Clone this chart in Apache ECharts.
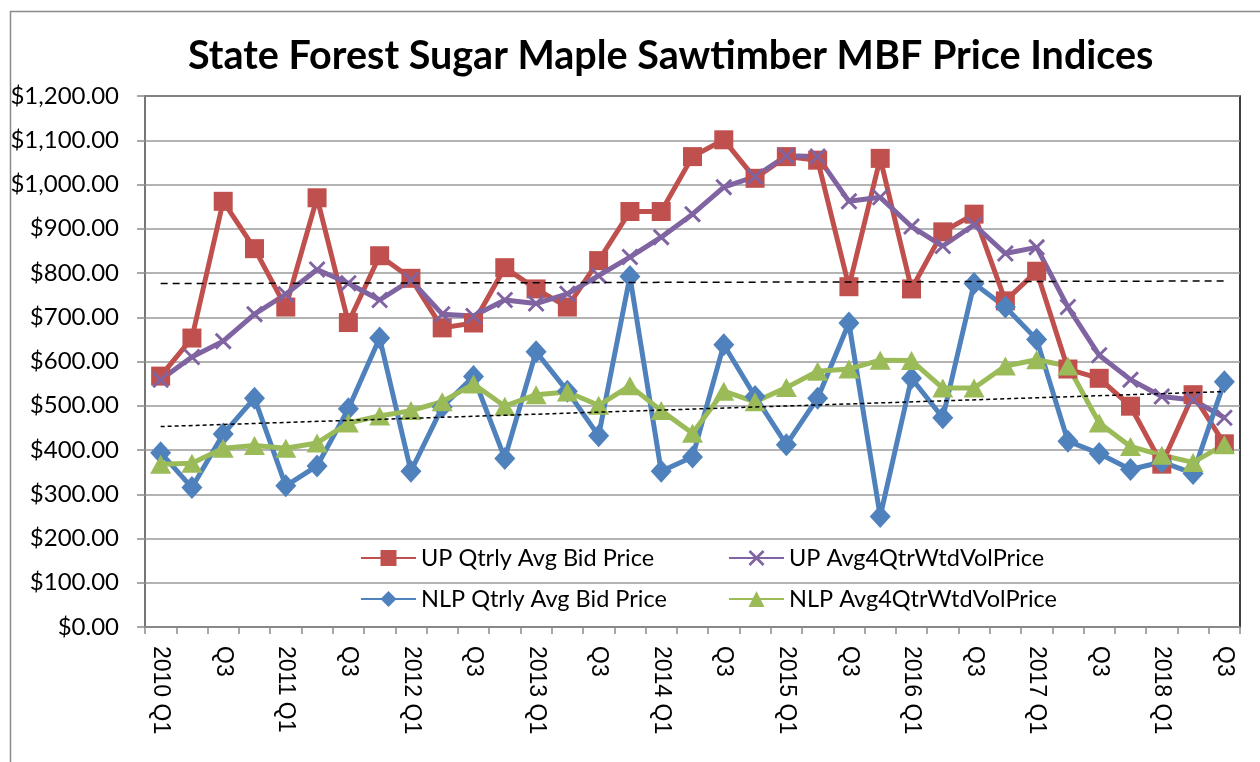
<!DOCTYPE html>
<html>
<head>
<meta charset="utf-8">
<script src="https://cdn.jsdelivr.net/npm/echarts@6/dist/echarts.min.js"></script>
<style>
html,body{margin:0;padding:0;background:#fff;}
#chart{width:1260px;height:762px;}
</style>
</head>
<body>
<div id="chart"></div>
<script>
const categories = [
  "2010 Q1","Q2","Q3","Q4",
  "2011 Q1","Q2","Q3","Q4",
  "2012 Q1","Q2","Q3","Q4",
  "2013 Q1","Q2","Q3","Q4",
  "2014 Q1","Q2","Q3","Q4",
  "2015 Q1","Q2","Q3","Q4",
  "2016 Q1","Q2","Q3","Q4",
  "2017 Q1","Q2","Q3","Q4",
  "2018 Q1","Q2","Q3"
];
const upQtrly = [567,653,962,855,723,970,688,839,788,676,687,812,
  764,723,828,939,939,1063,1101,1014,1063,1055,769,1059,
  764,893,933,737,804,583,562,499,368,525,414];
const upAvg4 = [559,610,646,707,752,808,777,739,784,707,703,739,
  731,753,794,836,881,933,994,1018,1065,1063,962,971,
  905,861,909,844,858,723,614,559,521,513,473];
const nlpQtrly = [394,315,436,517,319,364,493,653,352,497,566,381,
  622,533,432,792,352,384,638,521,412,517,687,250,
  562,473,776,723,650,420,392,356,373,347,554];
const nlpAvg4 = [368,370,404,410,404,416,461,477,489,509,549,499,
  525,531,501,545,489,438,533,509,541,578,583,603,
  602,540,540,590,604,590,461,408,388,372,412];
// dashed linear trend lines: read end values (first and last quarter)
const upTrendEnds = [776, 782];
const nlpTrendEnds = [453, 532];
const yTicks = [0,100,200,300,400,500,600,700,800,900,1000,1100,1200];

const seriesNames = ["UP Qtrly Avg Bid Price","UP Avg4QtrWtdVolPrice","NLP Qtrly Avg Bid Price","NLP Avg4QtrWtdVolPrice"];

function trendData(ends){
  const d = categories.map(()=>null);
  d[0] = ends[0];
  d[categories.length-1] = ends[1];
  return d;
}
function money(v){
  return '$' + v.toLocaleString('en-US',{minimumFractionDigits:2,maximumFractionDigits:2});
}

const xSymbol = 'path://M0,1.2L1.2,0L10,8.8L8.8,10Z M8.8,0L10,1.2L1.2,10L0,8.8Z';
const LBL = 'Lato, "Open Sans", sans-serif';

const chart = echarts.init(document.getElementById('chart'), null, {renderer:'canvas'});
chart.setOption({
  animation:false,
  backgroundColor:'#fff',
  graphic:[{
    type:'rect', left:8, top:9, silent:true, z:-10,
    shape:{x:0,y:0,width:1300,height:800},
    style:{fill:'none', stroke:'#8a8a8a', lineWidth:1.5}
  }],
  title:{
    text:'State Forest Sugar Maple Sawtimber MBF Price Indices',
    left:188, top:34, padding:0,
    textStyle:{fontFamily:LBL, fontWeight:'bold', fontSize:39.5, color:'#000', lineHeight:44}
  },
  legend:[{
    data:[seriesNames[0], seriesNames[2]],
    orient:'vertical', left:360, top:546, padding:0,
    itemWidth:55, itemHeight:20, itemGap:17,
    textStyle:{fontFamily:LBL, fontSize:23.5, color:'#000', lineHeight:22}
  },{
    data:[seriesNames[1], seriesNames[3]],
    orient:'vertical', left:728, top:546, padding:0,
    itemWidth:55, itemHeight:20, itemGap:17,
    textStyle:{fontFamily:LBL, fontSize:23.5, color:'#000', lineHeight:22}
  }],
  grid:{left:145, right:20, top:96, bottom:135, show:true, borderColor:'#000', borderWidth:1.5, backgroundColor:'transparent'},
  xAxis:{
    type:'category', data:categories, boundaryGap:true,
    axisLine:{lineStyle:{color:'#8a8a8a', width:1.5}},
    axisTick:{show:true, interval:0, length:7, lineStyle:{color:'#8a8a8a', width:1.5}},
    axisLabel:{interval:1, rotate:-90, margin:19, fontFamily:'"Liberation Sans", Arial, sans-serif', fontSize:23, color:'#000'},
    splitLine:{show:false}
  },
  yAxis:{
    type:'value', min:0, max:1200, interval:100,
    axisLine:{show:true, lineStyle:{color:'#8a8a8a', width:1.5}},
    axisTick:{show:true, length:8, lineStyle:{color:'#8a8a8a', width:1.5}},
    axisLabel:{margin:26, fontFamily:LBL, fontSize:24, color:'#000', formatter:v=>money(v)},
    splitLine:{show:true, lineStyle:{color:'#9a9a9a', width:1.5}}
  },
  series:[
    {name:seriesNames[0], type:'line', data:upQtrly, symbol:'rect', symbolSize:19, showAllSymbol:true,
      lineStyle:{color:'#C0504D', width:5}, itemStyle:{color:'#C0504D'}},
    {name:seriesNames[1], type:'line', data:upAvg4, symbol:xSymbol, symbolSize:17, showAllSymbol:true,
      lineStyle:{color:'#8064A2', width:5}, itemStyle:{color:'#8064A2'}},
    {name:seriesNames[2], type:'line', data:nlpQtrly, symbol:'diamond', symbolSize:[21,23], showAllSymbol:true,
      lineStyle:{color:'#4F81BD', width:5}, itemStyle:{color:'#4F81BD'}},
    {name:seriesNames[3], type:'line', data:nlpAvg4, symbol:'triangle', symbolSize:[21,19], showAllSymbol:true,
      lineStyle:{color:'#9BBB59', width:5}, itemStyle:{color:'#9BBB59'}},
    {name:'UP trend', type:'line', data:trendData(upTrendEnds), connectNulls:true, showSymbol:false, symbol:'none',
      lineStyle:{color:'#000', width:1.5, type:[7,5]}, z:5, silent:true},
    {name:'NLP trend', type:'line', data:trendData(nlpTrendEnds), connectNulls:true, showSymbol:false, symbol:'none',
      lineStyle:{color:'#000', width:1.5, type:[4,3]}, z:5, silent:true}
  ]
});
</script>
</body>
</html>
